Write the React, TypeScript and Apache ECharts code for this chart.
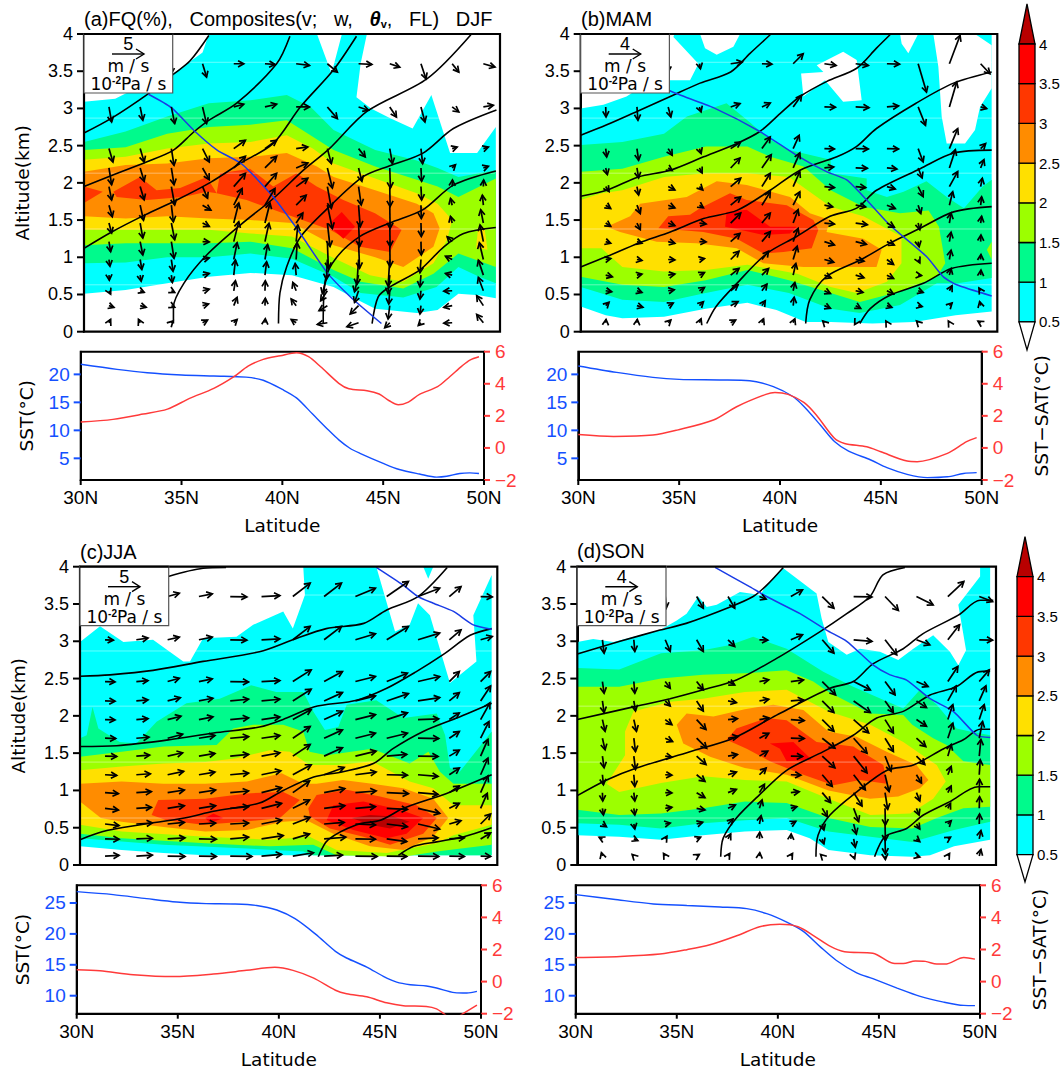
import React, { useEffect, useRef } from "react";
import * as echarts from "echarts";

const FONT = "Liberation Sans";
const NAME_FONT = "DejaVu Sans";
const LEVEL_COLORS = ["#00FFFF", "#00FA8C", "#9CFF00", "#FFE000", "#FF8C00", "#FF3700", "#FF0000", "#B80000"];
const LEVEL_LABELS = ["0.5", "1", "1.5", "2", "2.5", "3", "3.5", "4"];
const BLUE = "#1450FF";
const RED = "#FF3A3A";

// ---- contour regions, flat lat,alt pairs ----
const a0 = [30,3.09,31.5,3.13,32,3.2,34.2,3.45,35.7,3.75,36,4,41.2,4,41.9,3.47,42.4,4,43.6,4,43.3,3.6,43.1,3.15,43.8,3,44.7,2.87,45.8,2.73,46.7,3.18,47.6,2.4,48.9,2.4,49.8,2.75,49.8,.45,49,.49,48,.51,47,.29,46,.25,44,.31,43,.45,42,.6,40,.76,38,.79,36,.74,34,.65,32,.56,30,.51];
const a1 = [30,2.55,32,2.69,34,2.89,36,3.07,38,3.11,39.75,3.18,40.9,3.02,42,2.71,44,2.44,46,2.3,47,2.2,48,2.08,49.8,2.17,49.8,.65,49,.74,48,.87,46.95,.6,45.35,.46,43.3,.52,42,.74,40,.98,38,1.05,36,1,34,1,32,.93,30,.92];
const a2 = [30,2.44,32,2.48,34,2.66,36,2.75,38,2.78,39.75,2.84,41,2.62,42,2.44,44,2.22,46,2.04,47,1.95,48,1.81,49.8,2.06,49.8,.87,48,1.05,46.8,.78,45.35,.58,43.3,.67,42,.83,40,1.12,38,1.21,36,1.19,34,1.19,32,1.19,30,1.16];
const a3 = [30,2.31,32,2.35,34,2.46,36,2.53,38,2.55,39.75,2.64,41,2.46,42,2.26,44,2.06,46,1.86,47,1.72,47.7,1.5,47.45,1.23,46.8,.92,45.35,.67,43.75,.76,42,.99,40,1.28,38,1.32,36,1.37,34,1.37,32,1.37,30,1.37];
const a3b = [48.85,1.12,49.4,1.1,49.25,1.4,48.95,1.4];
const a4 = [30,2.15,32,2.24,34,2.26,36,2.33,38,2.35,39.75,2.4,41.2,2.22,42,2.08,44,1.9,46,1.72,46.8,1.59,47.1,1.39,46.8,1.14,45.35,.87,44,1,42,1.16,40,1.46,38,1.5,36,1.52,34,1.55,32,1.52,30,1.55];
const a5a = [30,1.95,30.9,1.88,30,1.73];
const a5b = [31.41,1.88,32.69,2.08,33.49,1.9,34.62,1.93,35.9,2.08,36.38,1.86,35.9,1.88,34.78,1.81,33.01,1.77,31.57,1.81];
const a5c = [36.38,1.86,36.54,2.13,37.98,2.19,39.1,1.95,40.22,2.13,41.19,1.95,42.47,1.77,43.99,1.59,45.27,1.37,44.71,1.07,43.27,1.14,41.83,1.37,39.58,1.59,37.82,1.77];
const a6 = [41.83,1.46,42.39,1.61,43.03,1.41,42.47,1.25,41.99,1.37];

const b0 = [30,3,31.09,3.05,32.2,3.16,32.7,3.25,34.25,3.38,35.25,3.38,35.65,3.6,34.45,3.96,34.5,4,49.73,4,49.73,.27,48,.22,46,.13,44,.11,42,.13,40.8,.13,39.4,.29,38,.39,36,.31,34,.2,32,.18,31.2,.22,30,.34];
const bh2 = [35.73,4,37.65,4,37.33,3.83,36.53,3.72,35.97,3.81];
const bh3 = [40.58,3.47,41.65,3.49,41.33,3.58,42.6,3.76,43.25,3.65,43.49,3.11,42.6,3.09,41.73,3.38,40.69,3.16];
const bh4 = [45.33,4,46.2,4,45.73,3.74,45.41,3.87];
const bh5 = [46.93,4,48.93,4,49.73,3.85,49.73,3.27,49.17,3.02,48.93,2.71,48.45,2.53,47.57,2.53,47.33,2.89,47.17,3.56];
const b1 = [30,2.51,32,2.55,34,2.66,35.1,2.89,37,3.07,38,2.84,39.1,2.58,40,2.44,42,2.31,42,2.13,43.73,2.06,43.73,1.9,44.7,1.81,45.5,1.88,46.6,2.02,47.57,1.81,48.4,1.66,49.3,1.95,49.73,2.04,49.73,.72,48.1,.65,47.1,.65,45.33,.36,43.4,.25,42,.31,40,.52,38,.63,36,.52,34,.4,32,.43,30,.6];
const b2 = [30,2.15,32,2.19,34,2.35,36,2.49,38,2.49,39.1,2.35,40.7,2.22,42,1.9,43.57,1.68,45.33,1.59,46.7,1.63,47.2,1.41,47.5,.92,47.1,.74,45.33,.54,43.4,.4,42,.52,40,.69,38,.83,36,.69,34,.6,32,.63,30,.74];
const b2b = [49.73,1.21,49.5,1.1,49.73,.97];
const b3 = [30,1.77,31,1.86,32,1.9,34,2.08,36,2.13,38,2.13,40,2.08,42,1.68,43.57,1.55,45.4,1.28,45.4,.92,44.7,.67,43.25,.52,42,.6,40.4,.78,38,.9,36,.83,34,.81,32,.87,31,1.12,30,1.12];
const b4 = [31.25,1.41,32.37,1.55,32.85,1.72,35.09,1.81,36.53,2.02,37.97,1.97,40.05,1.81,41,1.59,41.97,1.5,41.8,1.34,43.57,1.25,44.45,1.1,44.2,.87,42.6,.87,40.69,.87,38.77,.92,37.49,1.12,35.57,1.19,33.65,1.21,31.89,1.34];
const b5 = [33.73,1.39,34.2,1.55,35.25,1.57,35.73,1.66,37.17,1.86,37.97,1.77,39.89,1.7,41.17,1.5,41.41,1.37,41.09,1.12,39.73,1.07,38.77,1.05,37.49,1.25,35.89,1.34];
const b6 = [36.93,1.41,37,1.61,37.97,1.64,39.09,1.41,40.37,1.41,40.05,1.32,38.77,1.3,37.65,1.37];

const c0 = [30,2.99,30.96,3.2,32.08,2.99,33.5,3.02,34.95,2.73,35.27,2.73,35.9,3.04,37.5,3.06,38.3,3.22,39.74,3.4,40.2,3.17,40.78,3.62,40.7,4,44.2,4,45.1,3.13,45.8,3.22,46.2,3.51,46.77,3.35,47.73,2.44,49,2.73,48.85,3.35,49.73,3.89,49.73,.13,36,.13,34,.16,32,.2,30,.25];
const c0b = [46.45,4,46.93,4,46.69,3.84];
const c1 = [30,1.7,30.32,1.74,30.6,2.12,30.88,1.83,31.9,1.65,32.7,1.63,33.67,1.92,35.1,2.17,36.7,2.23,38.2,2.41,39.4,2.32,40.7,2.32,41.18,2.06,41.74,1.81,42.38,1.85,42.78,2.15,44.2,2.21,45.5,1.97,47.1,2.03,47.5,1.74,47.73,1.3,48.2,1.25,49.73,1.79,49.73,.13,41.18,.13,40.7,.18,38,.22,34,.27,30,.36];
const c2 = [30,1.45,32,1.52,34,1.59,36.55,1.61,37.35,1.83,38.3,1.88,39.74,1.88,40.7,1.79,41,1.52,41.82,1.47,44,1.56,45.8,1.36,46.7,1.52,47.25,1.25,47.9,1.09,49.73,1.09,49.73,.27,47.1,.18,45.5,.11,42.3,.13,41.18,.27,39.1,.25,36,.29,32,.36,30,.42];
const c3 = [30,1.27,32,1.32,34,1.36,36,1.38,37.5,1.43,39.1,1.54,40.06,1.52,41,1.34,42.3,1.34,44,1.39,45.8,1.12,46.93,1.03,47.9,.8,49.73,.8,49.73,.54,47.9,.4,47.1,.29,44.7,.16,42.3,.2,41,.38,39.1,.34,36,.38,32,.45,30,.54];
const c4 = [30,1.09,32,1.12,34,1.09,36,1.09,38,1.12,39.66,1.23,40.7,1.09,41.34,1.09,42.6,1.14,44,1.09,45.5,1.03,46.93,.89,47.65,.63,46.93,.38,45.5,.2,43.9,.25,42.14,.42,40.86,.6,39.74,.58,38,.47,36,.45,34,.51,32,.58,31,.63,30,.85];
const c5a = [33.43,.67,33.75,.87,36,.89,38,.96,39.74,.98,40.54,.87,39.58,.63,37.83,.58,35.9,.54,34.15,.6];
const c5b = [40.94,.76,41.34,.94,42.78,1.01,44.38,.92,46.13,.8,47.1,.63,46.45,.42,44.86,.27,43.58,.38,41.98,.49,41.02,.65];
const c6a = [36,.63,36.39,.69,36.87,.63,36.23,.56];
const c6b = [41.82,.6,42.14,.8,43.58,.85,45.34,.74,46.45,.63,45.65,.42,44.7,.36,43.1,.47];
const c7 = [43.02,.63,43.9,.67,45.02,.65,45.8,.58,44.86,.49,43.9,.54];

const d0 = [30,2.99,30.76,3.03,31.72,2.99,33.95,3.15,34.75,3.28,35.22,3.37,35.78,3.6,36.18,3.46,36.66,3.49,37.77,3.66,38.73,3.62,39.04,3.75,39.84,3.98,41.43,3.64,41.67,3.31,41.99,2.99,42.87,2.82,43.5,2.9,44.46,2.86,45.33,2.75,46.05,2.9,47,3.08,47.8,2.86,48.2,2.68,48.57,2.88,48.2,3.49,49.24,3.87,49.24,4,49.72,4,49.72,.34,48,.25,46.85,.13,46,.11,44,.13,42,.2,41.1,.36,40,.47,38,.45,36,.4,34,.34,32,.38,30,.4];
const d1 = [30,2.64,32,2.62,34,2.84,36,2.88,37.3,2.95,38.4,3.06,40,2.9,41.75,2.59,43.18,2.39,45.57,2.1,46.37,2.35,47.17,2.15,48.12,1.83,48.76,1.79,49.72,1.74,49.72,.58,48,.47,46,.31,44,.38,42,.45,40,.63,38,.6,36,.56,34,.49,32,.54,30,.56];
const d2 = [30,2.39,32,2.39,34,2.5,36,2.55,38,2.57,40,2.61,41.27,2.46,42,2.32,44,2.03,45.57,2.01,46,1.88,47,1.7,47.64,1.61,48.44,1.39,49.72,1.34,49.72,.78,48.44,.76,47.17,.63,46,.49,44,.51,42,.63,40,.83,38,.85,36,.76,34,.69,32,.67,30,.74];
const d3 = [32.28,1.79,32.68,2.06,34.43,2.19,36,2.23,38,2.32,40,2.35,42,2.06,44,1.88,45.57,1.65,47.17,1.34,47.6,1.12,47,.89,45.9,.69,44,.67,42,.89,40,1.12,38,1.14,36,1.19,34,1.1,32,.98,31.4,1.09,32.28,1.47];
const d4 = [34.75,1.88,35.22,2.03,36.5,1.99,38,2.09,39.36,2.15,40.8,2.08,42,1.79,43.34,1.72,44.78,1.52,46.2,1.34,46.77,1.14,46.37,1.03,45.33,.92,43.98,.89,42,1,40,1.21,38,1.3,36.34,1.45,35.06,1.63];
const d5 = [37.13,1.68,37.6,1.83,39.04,1.97,40,1.94,41.43,1.65,43.18,1.59,44.62,1.34,44.78,1.09,43.5,1.14,42.23,1.07,40.8,1.21,39.2,1.39,38.09,1.56];
const d6 = [39.2,1.63,40.32,1.65,41.2,1.41,40,1.39,39.68,1.56];

// level index into LEVEL_COLORS; -1 means below the first contour (white)
const regionsA: [number, number[]][] = [[0,a0],[1,a1],[2,a2],[3,a3],[3,a3b],[4,a4],[5,a5a],[5,a5b],[5,a5c],[6,a6]];
const regionsB: [number, number[]][] = [[0,b0],[-1,bh2],[-1,bh3],[-1,bh4],[-1,bh5],[1,b1],[2,b2],[2,b2b],[3,b3],[4,b4],[5,b5],[6,b6]];
const regionsC: [number, number[]][] = [[0,c0],[0,c0b],[1,c1],[2,c2],[3,c3],[4,c4],[5,c5a],[5,c5b],[6,c6a],[6,c6b],[7,c7]];
const regionsD: [number, number[]][] = [[0,d0],[1,d1],[2,d2],[3,d3],[4,d4],[5,d5],[6,d6]];

// the faint pale seams that run across the shading
const SEAM_ALTS = [3.62, 2.87, 2.13, 1.38, 0.63];

// ---- virtual potential temperature contours and freezing level, lat,alt pairs ----
const thetaA = [
  [30,2.67,31.33,2.87,33.1,3.2,34.3,3.46,35.1,3.64,36,3.98],
  [30,1.95,31.33,2.1,33,2.28,34.3,2.44,35.26,2.68,36,2.84,37.34,3.07,39.26,3.6,39.9,3.97],
  [30,1.12,31.33,1.34,32.93,1.57,34.46,1.77,36.1,2.01,37.5,2.26,39.1,2.53,40.4,3.02,42,3.52,43.1,3.97],
  [34.3,.11,34.3,.33,34.8,.65,35.9,1.03,37.5,1.43,39.1,1.79,40.55,2.17,41.8,2.46,43.6,2.96,46.5,3.4,48.6,3.99],
  [39.35,.11,39.42,.52,39.74,.87,40.4,1.27,41.8,1.68,43.4,2.08,44.7,2.23,46.3,2.4,47.76,2.73,49.83,2.98],
  [41.5,.11,41.6,.69,42.15,1,43.27,1.28,44.7,1.46,46.3,1.64,47.76,1.97,49.8,2.16],
  [43.85,.11,44.15,.47,44.7,.6,46.15,.83,47.3,1.14,48.25,1.32,49.8,1.4],
];
const freezeA = [33.1,3.19,34.2,3.01,35.34,2.69,36.4,2.44,37.6,2.25,39.1,1.81,40.4,1.32,41.67,.8,42.8,.47,44.3,.11];
const thetaB = [
  [30,2.64,31.25,2.78,32.7,2.96,34.3,3.16,35.73,3.34,37.2,3.49,38.13,3.74,39.1,3.99],
  [30,1.82,31.25,1.9,32.77,2.08,34.3,2.17,35.9,2.35,37.5,2.53,38.6,2.69,39.57,2.93,40.53,3.16,41.8,3.36,43.25,3.54,44.2,3.81,44.85,3.99],
  [30,.87,31.25,1.01,32.77,1.19,34.3,1.34,35.9,1.52,37.5,1.63,39.1,1.9,40.53,2.17,42.3,2.35,43.25,2.49,44.2,2.73,46.1,3.07,47.9,3.34,49.73,3.49],
  [36.05,.11,36.5,.34,37.5,.65,38.93,1.05,40.37,1.28,41.97,1.55,43.25,1.66,44.2,1.9,46.3,2.19,47.9,2.4,49.73,2.44],
  [40.8,.11,41,.43,41.8,.74,43.4,.96,44.85,1.19,46.3,1.39,47.9,1.61,49.73,1.68],
  [43.4,.11,43.9,.31,44.85,.49,46.45,.65,47.8,.85,49.73,.92],
];
const freezeB = [34.25,3.24,34.77,3.18,36.37,3.01,38.6,2.69,40.37,2.37,41.8,2.15,42.77,2.04,43.73,1.77,44.85,1.43,46.6,1.01,47.4,.74,48.05,.63,49.73,.48];
const thetaC = [
  [34.23,3.87,35.9,3.98,37,3.99],
  [30,2.53,31.44,2.55,33.5,2.61,35.9,2.73,38.6,2.86,40.2,3.02,41.8,3.17,43.6,3.24,44.7,3.42,46.2,3.6,47.6,3.99],
  [30,1.59,31.76,1.6,34.3,1.68,36.4,1.77,38.6,1.85,39.9,1.97,41.2,2.12,43.26,2.21,44.7,2.37,46.1,2.59,47.4,2.82,48.7,3.08,49.73,3.17],
  [30,.34,31.1,.45,32.9,.54,35,.63,36.4,.72,38.6,.83,39.74,1,41.2,1.18,42.6,1.25,44.06,1.36,45,1.56,46.45,1.79,48.05,1.97,49.73,2.17],
  [41.42,.11,41.9,.34,43.26,.54,44.4,.6,45.5,.76,47.57,.96,49.73,1.21],
  [45.26,.13,46,.25,47.1,.31,48.4,.38,49.73,.5],
];
const freezeC = [44.2,3.99,45.5,3.75,46.2,3.6,46.93,3.51,47.9,3.4,48.85,3.22,49.73,3.16];
const thetaD = [
  [30,2.83,32.04,3,33.95,3.15,35.2,3.24,37.3,3.46,38.4,3.6,39.04,3.75,39.84,3.99],
  [30,1.95,32.68,2.12,34.43,2.23,36.02,2.35,37.6,2.48,39.52,2.77,41.6,3.13,42.87,3.37,43.98,3.6,44.6,3.89,45.65,3.99],
  [30,.93,31.4,1.14,32.83,1.3,35.38,1.52,37.45,1.7,39.52,2.01,42.07,2.37,43.18,2.46,44.14,2.7,45.57,2.9,46.5,3.1,48.2,3.35,49.24,3.55,49.87,3.55],
  [36.85,.11,36.97,.36,37.6,.63,38.7,.94,40,1.27,41.75,1.52,43.18,1.74,44.3,1.97,45.57,2.06,46.85,2.28,48.1,2.39,49.15,2.59,49.72,2.6],
  [41.4,.11,41.5,.4,42.07,.67,43.35,.98,44.8,1.27,46.05,1.34,47.5,1.56,48.44,1.68,49.24,1.82,49.72,1.82],
  [44.2,.11,44.7,.38,45.73,.49,46.53,.67,47.8,.85,49.15,1.05,49.72,1.05],
];
const freezeD = [36.58,3.99,38.25,3.73,39.04,3.6,40.64,3.37,41.9,3.15,42.87,3,44.14,2.68,44.94,2.55,45.73,2.48,46.85,2.23,47.96,2.06,49.08,1.74,49.72,1.71];

// ---- wind vectors: v and omega (down positive) in 1/90 of the panel's reference vector ----
const ARROW_LATS = [31.2,32.7,34.2,35.7,37.2,38.7,40.2,41.7,43.2,44.7,46.2,47.7,49.2];
const ARROW_ALTS = [3.6,3.02,2.46,2.2,1.95,1.7,1.46,1.21,.97,.76,.55,.35,.12];
const windA = [
  [0,0,0,0,0,30,12,40,30,0,30,2,40,5,30,25,40,2,30,10,15,45,20,25,35,10],
  [8,45,8,40,10,50,12,50,30,-8,35,-8,40,0,30,35,30,10,20,30,12,45,20,15,30,-5],
  [12,40,12,40,8,50,20,40,35,-25,35,-25,35,-5,12,45,20,25,8,45,5,45,15,-5,15,-5],
  [8,50,12,40,8,50,20,35,35,-35,35,-35,35,-15,15,60,10,40,2,60,2,40,10,-10,15,-5],
  [8,40,12,40,10,55,15,35,35,-40,35,-40,35,-25,12,65,8,55,1,60,2,40,1,-20,1,-20],
  [10,35,10,45,6,50,25,15,25,-50,30,-50,30,-30,15,70,5,65,1,70,1,40,-5,-20,-3,-30],
  [8,30,8,45,10,50,20,10,15,-60,15,-60,20,-30,8,70,3,70,1,70,1,40,-5,-20,-8,-40],
  [5,30,8,40,8,50,20,1,15,-60,12,-55,5,-50,3,80,3,80,1,75,1,40,-15,-15,-10,-50],
  [3,20,5,30,5,35,20,-5,10,-50,8,-45,3,-50,-3,60,-5,75,-5,80,-3,40,-20,-10,-12,-50],
  [1,15,3,18,3,22,20,-5,5,-45,5,-40,-3,-35,-15,55,-12,50,-5,55,-3,35,-20,-5,-15,-45],
  [5,10,12,5,10,5,20,-5,5,-30,1,-30,-10,-25,-20,30,-12,35,-3,40,-3,25,-25,1,-15,-40],
  [15,5,18,5,10,5,18,-5,10,-25,1,-22,-15,-20,-25,15,-25,25,-5,40,-3,25,-25,5,-20,-30],
  [5,-10,-5,-10,5,-5,15,-8,10,-10,1,-12,-15,-10,-30,5,-35,12,-15,15,-8,8,-25,1,-20,-25],
];
const windB = [
  [0,0,0,0,0,25,3,15,35,-5,30,1,30,-30,35,5,38,5,38,1,25,85,32,-85,28,30],
  [1,30,3,40,8,30,5,15,28,-10,25,-12,25,-35,33,1,40,2,35,-3,22,55,22,-75,18,5],
  [3,25,5,35,12,20,5,15,30,-20,25,-35,18,-40,30,1,38,1,35,1,15,40,25,-60,15,-15],
  [5,20,5,30,12,8,8,15,28,-30,28,-40,20,-45,28,-3,35,1,30,3,12,30,18,-55,10,-25],
  [10,15,5,25,20,10,10,10,30,-25,25,-40,20,-45,30,3,30,3,25,7,15,30,25,-45,5,-25],
  [15,10,10,25,20,8,12,8,30,-25,25,-40,20,-40,25,5,30,5,25,10,8,25,10,-40,3,-25],
  [15,10,10,20,20,8,20,3,30,-30,25,-30,15,-40,30,3,35,5,22,12,5,20,5,-30,3,-20],
  [15,5,15,5,20,5,20,1,28,-25,25,-30,15,-40,30,10,32,8,22,10,3,15,5,-28,1,-20],
  [15,-3,15,3,20,1,15,-3,25,-25,20,-25,12,-40,28,8,25,5,20,15,5,10,5,-28,1,-15],
  [20,5,15,-3,20,-3,15,-8,25,-20,20,-20,8,-35,20,8,25,8,20,10,10,1,5,-20,1,-15],
  [18,3,15,5,18,-3,15,-10,22,-18,15,-20,5,-25,18,8,22,5,20,10,15,5,8,-15,-5,-8],
  [10,-10,18,5,15,-8,12,-12,22,-12,10,-15,3,-25,18,8,15,8,15,5,12,3,8,-8,-3,-12],
  [1,-10,1,-10,8,-8,5,-12,15,-8,5,-12,5,-12,-5,-5,-3,5,-3,-5,-5,-5,-3,-5,-8,-5],
];
const windC = [
  [0,0,0,0,35,-10,40,-8,50,1,55,-3,52,-40,52,-40,60,-25,65,-45,65,-25,35,-30,35,1],
  [25,1,35,-5,35,-8,40,-8,50,1,55,-3,52,-40,52,-40,60,-18,65,-40,65,-20,35,-30,35,-10],
  [30,1,35,-3,35,-10,40,-8,55,1,55,-3,55,-35,55,-30,60,-15,62,-25,65,-15,30,-30,30,-30],
  [30,1,35,-3,38,-10,42,-8,55,-5,55,-5,55,-35,55,-25,60,-15,65,-22,65,-10,30,-25,30,-45],
  [30,1,35,-3,40,-10,42,-8,55,-5,55,-8,55,-30,55,-25,60,-15,62,-20,62,-2,30,-20,28,-50],
  [32,1,38,-3,45,-12,48,-8,55,-5,55,-8,52,-35,55,-25,60,-15,62,-15,62,1,30,-20,25,-50],
  [35,1,40,-3,45,-10,48,-8,55,-5,55,-10,52,-35,55,-25,62,-15,60,-5,60,1,30,-18,22,-50],
  [35,2,42,-3,48,-10,48,-8,55,-5,58,-12,55,-30,60,-22,62,-8,62,1,60,5,30,-20,22,-50],
  [40,3,45,-3,50,-8,50,-8,55,-5,60,-15,50,-35,62,-12,62,-5,65,3,60,5,30,-20,22,-50],
  [40,5,45,-3,50,-8,50,-8,55,-5,60,-15,50,-25,62,-8,60,-5,62,3,65,15,30,-15,20,-45],
  [42,5,48,-3,50,-5,50,-3,55,-3,60,-12,52,-20,60,-5,60,3,62,8,65,15,35,-10,30,-30],
  [42,1,48,-2,52,-3,52,1,55,-5,65,-10,50,-15,65,-5,60,1,60,8,60,-3,45,-3,30,-18],
  [42,-2,48,-3,52,1,52,1,65,1,60,-5,62,-10,55,-3,65,1,60,1,62,1,45,1,30,1],
];
const windD = [
  [0,0,0,0,3,35,20,35,20,35,20,8,35,-20,35,35,55,1,40,42,50,25,48,-45,40,15],
  [5,40,3,35,15,35,20,35,20,20,25,1,35,-15,35,40,55,5,35,45,40,15,35,-45,40,1],
  [5,35,3,35,15,20,20,25,20,10,28,-5,38,-5,40,40,50,25,30,40,35,15,30,-45,30,-35],
  [5,35,5,30,15,15,20,30,25,5,28,-5,38,-3,35,35,50,35,25,35,30,20,25,-45,20,-45],
  [8,35,8,35,20,15,28,30,28,-3,28,-5,40,3,35,35,45,40,25,40,30,20,15,-45,15,-45],
  [8,35,5,40,22,10,30,30,30,-5,28,-15,40,1,38,30,40,45,25,40,28,25,15,-45,10,-50],
  [5,35,5,40,20,3,28,25,28,-5,25,-15,35,1,38,35,40,50,18,45,25,25,10,-35,5,-50],
  [3,30,3,35,20,1,25,20,25,-8,20,-20,30,1,30,35,35,45,12,50,15,25,10,-25,3,-45],
  [1,25,3,25,20,1,25,15,25,-10,15,-25,25,-3,25,30,25,40,8,50,10,25,10,-20,1,-40],
  [3,20,3,20,20,-3,25,5,22,-10,8,-25,18,-5,15,25,15,40,1,50,8,20,8,-15,1,-35],
  [12,8,3,15,15,-3,18,-5,15,-15,5,-25,15,-8,5,18,8,30,1,50,10,15,10,-10,1,-30],
  [-10,-5,12,5,5,-8,12,-5,8,-15,1,-20,1,-15,5,15,5,25,1,45,10,8,8,-5,5,-25],
  [-3,-10,-5,-5,-5,-8,8,-5,5,-8,1,-10,5,-8,-5,-5,3,8,1,10,10,3,5,-8,5,-20],
];

// ---- lower panels, lat,value pairs ----
const sstA = [30,21.8,31.8,20.9,33.3,20.3,35,19.9,36.6,19.7,38.2,19.5,39.05,18.95,40,17.3,40.7,15.8,41.5,12.9,42.3,10,42.8,8.3,43.35,6.8,43.85,5.9,45,4.1,45.8,3,46.8,2.2,47.65,1.65,48.15,1.8,48.8,2.3,49.3,2.4,49.75,2.3];
const difA = [30,1.61,31.6,1.78,33.1,2.11,34.3,2.42,35.4,3.09,36.6,3.71,37.6,4.44,38.3,5.1,39.05,5.52,39.9,5.75,40.7,5.94,41.3,5.69,41.9,5.06,42.8,4.03,43.3,3.69,44.2,3.57,44.8,3.36,45.3,2.94,45.75,2.69,46.25,2.86,46.8,3.34,47.7,3.82,48.3,4.44,48.9,5.1,49.3,5.48,49.75,5.69];
const sstB = [30,21.5,31.9,20.35,33.7,19.46,35,19.1,37,19,38.5,18.87,39.67,17.8,40.66,16,41.2,14.2,42,10.95,42.7,8,43.4,6.3,44.5,4.7,45.3,3.33,46.3,2.14,47.3,1.55,48.3,1.7,49.1,2.3,49.75,2.44];
const difB = [30,.84,31.75,.72,33.7,.8,34.9,1.11,36.7,1.74,37.85,2.57,39.3,3.34,39.75,3.46,40.4,3.34,41.2,2.82,41.8,2.05,42.7,.6,43.2,.28,44.3,.07,45,-.24,46.3,-.82,46.8,-.86,48.3,-.34,49.25,.39,49.75,.64];
const sstC = [30,26.83,31.8,26.35,33.46,25.7,34.95,25.16,36.4,24.9,37.75,24.84,38.9,24.6,39.9,23.87,40.8,22.46,41.8,20,42.8,17.17,43.35,16.1,44.35,14.64,45.17,13.13,45.83,12.2,46.5,11.78,47.3,11.56,47.8,11.24,48.7,10.5,49.3,10.43,49.8,10.7];
const difC = [30,.74,31.15,.68,32.8,.43,34.8,.31,36.76,.47,38.4,.7,39.8,.89,40.7,.7,41.7,.23,42.8,-.54,43.35,-.76,44.35,-.95,45.33,-1.32,46.16,-1.5,47.3,-1.55,47.8,-1.7,48.2,-2.04,48.6,-2.4,49.05,-2.04,49.8,-1.46];
const sstD = [30,26.35,31.86,25.6,33.84,24.84,35.5,24.6,37.14,24.35,38.46,24.08,39.45,23.27,40.44,21.9,41.26,20.4,42.1,17.9,42.9,15.7,43.9,13.7,44.7,12.75,45.9,11.24,47,9.94,48.2,8.97,49.2,8.43,49.75,8.4];
const difD = [30,1.5,32.2,1.57,34.17,1.72,35.5,1.99,36.64,2.29,38,2.87,39.1,3.42,40.1,3.57,41,3.42,41.76,2.87,42.6,2.19,43.3,1.86,44.7,1.77,45.7,1.15,46.2,1.13,46.8,1.28,47.3,1.26,47.86,1.09,48.27,1.09,49.2,1.5,49.75,1.4];

const SST_TICKS_AB = [5, 10, 15, 20];
const SST_TICKS_CD = [10, 15, 20, 25];
const ALT_TICKS = [0, .5, 1, 1.5, 2, 2.5, 3, 3.5, 4];
const DIF_TICKS = [-2, 0, 2, 4, 6];
const LAT_TICKS = [30, 35, 40, 45, 50];

const pairs = (f: number[]) => {
  const out: number[][] = [];
  for (let i = 0; i < f.length; i += 2) out.push([f[i], f[i + 1]]);
  return out;
};

const PANELS = [
  { key: "a", regions: regionsA, theta: thetaA, freeze: freezeA, wind: windA, ref: "5", box: [84, 500, 34, 331.7], low: [80.7, 484, 351.7, 480], sst: sstA, dif: difA, ticks: SST_TICKS_AB, range: [1.13, 24.05], leftName: true, rightName: false },
  { key: "b", regions: regionsB, theta: thetaB, freeze: freezeB, wind: windB, ref: "4", box: [580.7, 997.3, 34, 331.7], low: [578.3, 981.7, 351.7, 480], sst: sstB, dif: difB, ticks: SST_TICKS_AB, range: [1.13, 24.05], leftName: false, rightName: true },
  { key: "c", regions: regionsC, theta: thetaC, freeze: freezeC, wind: windC, ref: "5", box: [80, 497.3, 566.7, 865], low: [76.7, 481, 885.3, 1013.7], sst: sstC, dif: difC, ticks: SST_TICKS_CD, range: [7.09, 27.86], leftName: true, rightName: false },
  { key: "d", regions: regionsD, theta: thetaD, freeze: freezeD, wind: windD, ref: "4", box: [577.3, 996, 566.7, 865], low: [575.7, 980, 885.3, 1013.7], sst: sstD, dif: difD, ticks: SST_TICKS_CD, range: [7.09, 27.86], leftName: false, rightName: true },
];

const textBase = { fontFamily: FONT, fill: "#000" };
const nameStyle = { color: "#000", fontFamily: NAME_FONT, fontSize: 18.5 };

// outward tick marks placed through the axis scales; dir is the pixel direction of the tick
function tickSeries(xi: number, yi: number, points: number[][], dir: number[], color: string) {
  return {
    type: "custom", xAxisIndex: xi, yAxisIndex: yi, coordinateSystem: "cartesian2d", clip: false, silent: true, z: 6,
    encode: { x: 0, y: 1 }, data: points,
    renderItem: (_: any, api: any) => {
      const s = api.coord([api.value(0), api.value(1)]);
      return {
        type: "line",
        shape: { x1: s[0], y1: s[1], x2: s[0] + dir[0], y2: s[1] + dir[1] },
        style: { stroke: color, lineWidth: 2 },
      };
    },
  };
}

function buildOption() {
  const grid: any[] = [], xAxis: any[] = [], yAxis: any[] = [], series: any[] = [], graphic: any[] = [];
  const noTick = { show: false };
  const line = (color = "#000") => ({ show: true, onZero: false, lineStyle: { color, width: 2 } });

  PANELS.forEach((p) => {
    // upper panel
    const [l, r, t, b] = p.box;
    const gi = grid.length;
    grid.push({ left: l, top: t, width: r - l, height: b - t, show: false });
    xAxis.push({ type: "value", gridIndex: gi, min: 30, max: 50, interval: 5, show: false });
    const yi = yAxis.length;
    yAxis.push({
      type: "value", gridIndex: gi, position: "left", min: 0, max: 4, interval: 0.5,
      axisLine: line(), axisTick: noTick, splitLine: { show: false },
      axisLabel: { color: "#000", fontFamily: FONT, fontSize: 18, margin: 11 },
      ...(p.leftName ? { name: "Altitude(km)", nameLocation: "middle", nameGap: 52, nameTextStyle: nameStyle } : {}),
    });
    series.push(tickSeries(gi, yi, ALT_TICKS.map((v) => [30, v]), [-7, 0], "#000"));
    series.push({
      type: "custom", xAxisIndex: gi, yAxisIndex: yi, coordinateSystem: "cartesian2d", clip: true, silent: true, z: 2,
      encode: { x: 0, y: 1 },
      data: p.regions.map((rg, i) => [rg[1][0], rg[1][1], i]),
      renderItem: (params: any, api: any) => {
        const rg = p.regions[params.dataIndex];
        return {
          type: "polygon",
          shape: { points: pairs(rg[1]).map((q) => api.coord(q)) },
          style: { fill: rg[0] < 0 ? "#fff" : LEVEL_COLORS[rg[0]] },
        };
      },
    });
    SEAM_ALTS.forEach((h) => series.push({
      type: "line", xAxisIndex: gi, yAxisIndex: yi, data: [[30, h], [49.75, h]], showSymbol: false, silent: true, z: 3,
      lineStyle: { color: "rgba(255,255,255,0.4)", width: 1 },
    }));
    p.theta.forEach((f) => series.push({
      type: "line", xAxisIndex: gi, yAxisIndex: yi, data: pairs(f), smooth: 0.3, showSymbol: false, silent: true, z: 4,
      lineStyle: { color: "#000", width: 1.6 },
    }));
    series.push({
      type: "line", xAxisIndex: gi, yAxisIndex: yi, data: pairs(p.freeze), smooth: 0.2, showSymbol: false, silent: true, z: 4,
      lineStyle: { color: "#1A3CE6", width: 1.5 },
    });
    const arrows: number[][] = [];
    p.wind.forEach((row, ri) => {
      ARROW_LATS.forEach((lat, ci) => {
        const u = row[ci * 2], w = row[ci * 2 + 1];
        if (u !== 0 || w !== 0) arrows.push([lat, ARROW_ALTS[ri], u, w]);
      });
    });
    series.push({
      type: "custom", xAxisIndex: gi, yAxisIndex: yi, coordinateSystem: "cartesian2d", clip: true, silent: true, z: 5,
      encode: { x: 0, y: 1 },
      data: arrows,
      renderItem: (_: any, api: any) => {
        const s = api.coord([api.value(0), api.value(1)]);
        const dx = api.value(2) / 3, dy = api.value(3) / 3;
        const tip = [s[0] + dx, s[1] + dy];
        const ang = Math.atan2(dy, dx);
        const hl = 6.5;
        const wing = (o: number) => [tip[0] - hl * Math.cos(ang + o), tip[1] - hl * Math.sin(ang + o)];
        const st = { stroke: "#000", fill: "none", lineWidth: 1.7 };
        return {
          type: "group",
          children: [
            { type: "polyline", shape: { points: [s, tip] }, style: st },
            { type: "polyline", shape: { points: [wing(0.5), tip, wing(-0.5)] }, style: st },
          ],
        };
      },
    });
    // frame + key
    graphic.push({ type: "rect", z: 40, silent: true, shape: { x: l, y: t, width: r - l, height: b - t }, style: { fill: "none", stroke: "#000", lineWidth: 2.2 } });
    const kw = 88.7, kh = 59;
    graphic.push({ type: "rect", z: 50, silent: true, shape: { x: l, y: t, width: kw, height: kh }, style: { fill: "#fff", stroke: "#555", lineWidth: 1.2 } });
    graphic.push({ type: "rect", z: 51, silent: true, shape: { x: l, y: t - 1, width: kw, height: 2 }, style: { fill: "#000" } });
    const cx = l + kw / 2;
    graphic.push({ type: "text", z: 52, silent: true, x: cx, y: t + 10, style: { ...textBase, text: p.ref, fontSize: 18, textAlign: "center", textVerticalAlign: "middle" } });
    const ay = t + 20;
    graphic.push({ type: "polyline", z: 52, silent: true, shape: { points: [[l + 28, ay], [l + 60, ay]] }, style: { stroke: "#000", fill: "none", lineWidth: 1.4 } });
    graphic.push({ type: "polyline", z: 52, silent: true, shape: { points: [[l + 52, ay - 5], [l + 60, ay], [l + 52, ay + 5]] }, style: { stroke: "#000", fill: "none", lineWidth: 1.4 } });
    graphic.push({ type: "text", z: 52, silent: true, x: cx, y: t + 32, style: { fontFamily: NAME_FONT, fill: "#000", text: "m / s", fontSize: 17, textAlign: "center", textVerticalAlign: "middle" } });
    graphic.push({
      type: "text", z: 52, silent: true, x: cx, y: t + 50,
      style: {
        fontFamily: NAME_FONT, fill: "#000", text: "{n|10}{s|-2}{n|Pa / s}", textAlign: "center", textVerticalAlign: "middle",
        rich: {
          n: { fontFamily: NAME_FONT, fontSize: 17, fill: "#000" },
          s: { fontFamily: FONT, fontSize: 10, fontWeight: "bold", fill: "#000", verticalAlign: "top" },
        },
      },
    });

    // lower panel
    const [ll, lr, lt, lb] = p.low;
    const lg = grid.length;
    grid.push({ left: ll, top: lt, width: lr - ll, height: lb - lt, show: true, borderColor: "#000", borderWidth: 2, backgroundColor: "transparent" });
    xAxis.push({
      type: "value", gridIndex: lg, min: 30, max: 50, interval: 5, position: "bottom",
      axisLine: line(), axisTick: noTick, splitLine: { show: false },
      axisLabel: { color: "#000", fontFamily: FONT, fontSize: 19, margin: 8, formatter: (v: number) => `${v}N` },
      name: "Latitude", nameLocation: "middle", nameGap: 36, nameTextStyle: nameStyle,
    });
    const ly = yAxis.length;
    yAxis.push({
      type: "value", gridIndex: lg, position: "left", min: p.range[0], max: p.range[1],
      axisLine: line(), axisTick: noTick, splitLine: { show: false },
      axisLabel: { color: BLUE, fontFamily: FONT, fontSize: 19, margin: 11, customValues: p.ticks },
      ...(p.leftName ? { name: "SST(°C)", nameLocation: "middle", nameGap: 45, nameTextStyle: nameStyle } : {}),
    });
    yAxis.push({
      type: "value", gridIndex: lg, position: "right", min: -2, max: 6, interval: 2,
      axisLine: line(), axisTick: noTick, splitLine: { show: false },
      axisLabel: { color: RED, fontFamily: FONT, fontSize: 19, margin: 11, formatter: (v: number) => String(v).replace("-", "−") },
      ...(p.rightName ? { name: "SST−SAT(°C)", nameLocation: "middle", nameGap: 50, nameRotate: 90, nameTextStyle: nameStyle } : {}),
    });
    series.push(tickSeries(lg, ly, p.ticks.map((v) => [30, v]), [-7, 0], BLUE));
    series.push(tickSeries(lg, ly + 1, DIF_TICKS.map((v) => [50, v]), [6, 0], RED));
    series.push(tickSeries(lg, ly + 1, LAT_TICKS.map((v) => [v, -2]), [0, 5], "#000"));
    series.push({ type: "line", xAxisIndex: lg, yAxisIndex: ly, data: pairs(p.sst), smooth: 0.3, showSymbol: false, silent: true, clip: true, lineStyle: { color: BLUE, width: 1.4 } });
    series.push({ type: "line", xAxisIndex: lg, yAxisIndex: ly + 1, data: pairs(p.dif), smooth: 0.3, showSymbol: false, silent: true, clip: true, lineStyle: { color: RED, width: 1.5 } });
  });

  // titles
  graphic.push({
    type: "text", z: 60, silent: true, x: 84, y: 19,
    style: {
      text: "{t|(a)FQ(%),   Composites(v;   w,   }{b|θ}{u|v}{t|,   FL)   DJF}", textVerticalAlign: "middle",
      rich: {
        t: { fontFamily: FONT, fontSize: 20, fill: "#000" },
        b: { fontFamily: FONT, fontSize: 20, fontWeight: "bold", fontStyle: "italic", fill: "#000" },
        u: { fontFamily: FONT, fontSize: 11, fontWeight: "bold", fill: "#000", verticalAlign: "bottom" },
      },
    },
  });
  [["(b)MAM", 581, 19], ["(c)JJA", 80, 552], ["(d)SON", 577, 551]].forEach(([s, x, y]) =>
    graphic.push({ type: "text", z: 60, silent: true, x, y, style: { ...textBase, text: s, fontSize: 20, textVerticalAlign: "middle" } })
  );

  // colour bars
  [[1019, 4, 44, 39.7, 350], [1017, 536.7, 576.7, 39.7, 882]].forEach(([x, tip, top4, seg, bottomTip]) => {
    const w = 16;
    const stroke = { stroke: "#000", lineWidth: 1.3 };
    graphic.push({ type: "polygon", z: 30, silent: true, shape: { points: [[x, top4], [x + w / 2, tip], [x + w, top4]] }, style: { fill: LEVEL_COLORS[7], ...stroke } });
    for (let i = 0; i < 7; i++) {
      graphic.push({ type: "rect", z: 30, silent: true, shape: { x, y: top4 + seg * (6 - i), width: w, height: seg }, style: { fill: LEVEL_COLORS[i], ...stroke } });
    }
    graphic.push({ type: "polygon", z: 30, silent: true, shape: { points: [[x, top4 + seg * 7], [x + w / 2, bottomTip], [x + w, top4 + seg * 7]] }, style: { fill: "#fff", ...stroke } });
    LEVEL_LABELS.forEach((s, i) => {
      graphic.push({
        type: "text", z: 30, silent: true, x: x + 20, y: top4 + seg * (7 - i),
        style: { ...textBase, text: s, fontSize: 15, textVerticalAlign: "middle" },
      });
    });
  });

  return { animation: false, backgroundColor: "#fff", tooltip: { show: false }, grid, xAxis, yAxis, series, graphic };
}

export default function App() {
  const ref = useRef<HTMLDivElement>(null);
  useEffect(() => {
    document.body.style.margin = "0";
    const chart = echarts.init(ref.current!, undefined, { renderer: "svg" });
    chart.setOption(buildOption() as any);
    return () => chart.dispose();
  }, []);
  return <div ref={ref} style={{ width: 1062, height: 1070 }} />;
}
